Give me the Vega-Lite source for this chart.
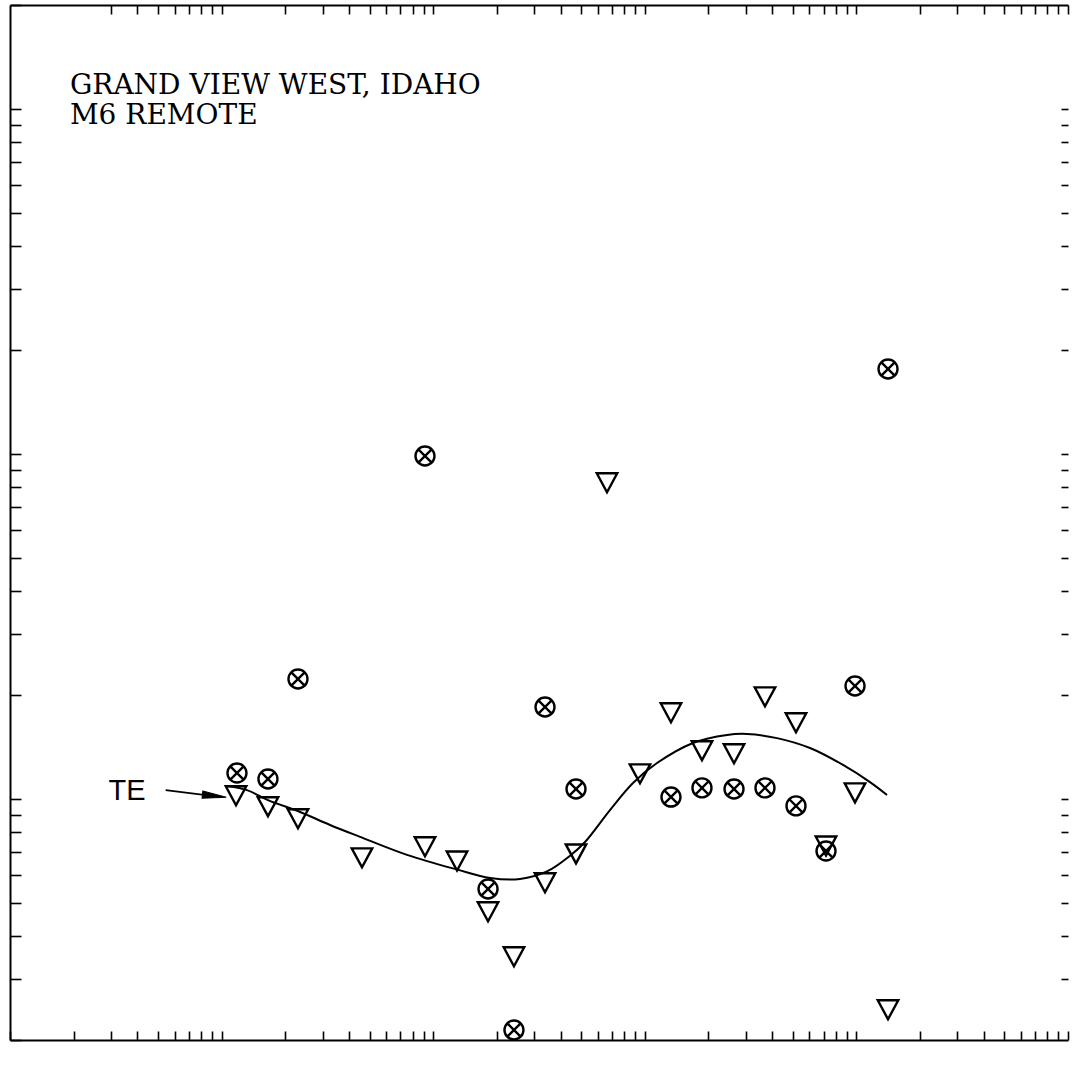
{
  "$schema": "https://vega.github.io/schema/vega-lite/v6.json",
  "width": 1058,
  "height": 1035,
  "autosize": {"type": "none"},
  "padding": {"left": 10, "top": 5, "right": 11, "bottom": 28},
  "background": "white",
  "config": {
    "view": {"stroke": null},
    "axis": {
      "labels": false, "grid": false, "title": null,
      "tickColor": "black", "tickWidth": 1.6, "domainColor": "black", "domainWidth": 2
    }
  },
  "datasets": {
    "points": [
      {"period": 0.0591, "rho": 5.94, "kind": "circle"},
      {"period": 0.0828, "rho": 5.71, "kind": "circle"},
      {"period": 0.1148, "rho": 11.13, "kind": "circle"},
      {"period": 0.4573, "rho": 49.29, "kind": "circle"},
      {"period": 0.908, "rho": 2.74, "kind": "circle"},
      {"period": 1.204, "rho": 1.069, "kind": "circle"},
      {"period": 1.688, "rho": 9.23, "kind": "circle"},
      {"period": 2.365, "rho": 5.34, "kind": "circle"},
      {"period": 6.648, "rho": 5.06, "kind": "circle"},
      {"period": 9.315, "rho": 5.38, "kind": "circle"},
      {"period": 13.2, "rho": 5.34, "kind": "circle"},
      {"period": 18.49, "rho": 5.38, "kind": "circle"},
      {"period": 25.91, "rho": 4.77, "kind": "circle"},
      {"period": 35.92, "rho": 3.53, "kind": "circle"},
      {"period": 49.25, "rho": 10.62, "kind": "circle"},
      {"period": 70.53, "rho": 88.1, "kind": "circle"},
      {"period": 0.0585, "rho": 5.13, "kind": "triangle"},
      {"period": 0.0828, "rho": 4.77, "kind": "triangle"},
      {"period": 0.1148, "rho": 4.4, "kind": "triangle"},
      {"period": 0.2304, "rho": 3.39, "kind": "triangle"},
      {"period": 0.4573, "rho": 3.65, "kind": "triangle"},
      {"period": 0.648, "rho": 3.32, "kind": "triangle"},
      {"period": 0.908, "rho": 2.365, "kind": "triangle"},
      {"period": 1.204, "rho": 1.752, "kind": "triangle"},
      {"period": 1.688, "rho": 2.87, "kind": "triangle"},
      {"period": 2.365, "rho": 3.48, "kind": "triangle"},
      {"period": 3.314, "rho": 41.44, "kind": "triangle"},
      {"period": 4.745, "rho": 5.94, "kind": "triangle"},
      {"period": 6.648, "rho": 8.93, "kind": "triangle"},
      {"period": 9.315, "rho": 6.93, "kind": "triangle"},
      {"period": 13.2, "rho": 6.79, "kind": "triangle"},
      {"period": 18.49, "rho": 9.93, "kind": "triangle"},
      {"period": 25.91, "rho": 8.35, "kind": "triangle"},
      {"period": 35.92, "rho": 3.67, "kind": "triangle"},
      {"period": 49.25, "rho": 5.23, "kind": "triangle"},
      {"period": 70.53, "rho": 1.23, "kind": "triangle"}
    ],
    "curve": [
      {"period": 0.0536, "rho": 5.45},
      {"period": 0.0659, "rho": 5.3},
      {"period": 0.0828, "rho": 4.96},
      {"period": 0.1174, "rho": 4.58},
      {"period": 0.1627, "rho": 4.2},
      {"period": 0.2255, "rho": 3.88},
      {"period": 0.376, "rho": 3.44},
      {"period": 0.648, "rho": 3.12},
      {"period": 0.928, "rho": 2.95},
      {"period": 1.286, "rho": 2.93},
      {"period": 1.725, "rho": 3.08},
      {"period": 2.215, "rho": 3.42},
      {"period": 2.609, "rho": 3.75},
      {"period": 3.423, "rho": 4.64},
      {"period": 4.397, "rho": 5.56},
      {"period": 5.71, "rho": 6.35},
      {"period": 8.45, "rho": 7.26},
      {"period": 12.23, "rho": 7.66},
      {"period": 15.2, "rho": 7.71},
      {"period": 21.07, "rho": 7.5},
      {"period": 30.18, "rho": 7.02},
      {"period": 43.23, "rho": 6.27},
      {"period": 57.97, "rho": 5.59},
      {"period": 69.77, "rho": 5.13}
    ],
    "arrow": [
      {"period": 0.0272, "rho": 5.3},
      {"period": 0.0502, "rho": 5.06}
    ],
    "arrowhead": [
      {"period": 0.0462, "rho": 5.1}
    ],
    "labels": [
      {"period": 0.0096, "rho": 552, "text": "GRAND VIEW WEST, IDAHO"},
      {"period": 0.0096, "rho": 452, "text": "M6 REMOTE"}
    ],
    "te": [
      {"period": 0.01786, "rho": 5.27, "text": "TE"}
    ]
  },
  "resolve": {"axis": {"x": "independent", "y": "independent"}},
  "layer": [
    {
      "data": {"name": "points"},
      "transform": [{"filter": "datum.kind === 'circle'"}],
      "mark": {
        "type": "point",
        "shape": "M -1 0 A 1 1 0 1 1 1 0 A 1 1 0 1 1 -1 0 Z M -0.7 -0.7 L 0.7 0.7 M -0.7 0.7 L 0.7 -0.7",
        "filled": false, "stroke": "black", "strokeWidth": 2.4, "size": 361, "opacity": 1
      },
      "encoding": {
        "x": {
          "field": "period", "type": "quantitative",
          "scale": {"type": "log", "domain": [0.005, 500], "nice": false, "zero": false},
          "axis": {
            "orient": "bottom", "tickSize": -9,
            "values": [0.005, 0.01, 0.015, 0.02, 0.025, 0.03, 0.035, 0.04, 0.045, 0.05, 0.1, 0.15, 0.2, 0.25, 0.3, 0.35, 0.4, 0.45, 0.5, 1, 1.5, 2, 2.5, 3, 3.5, 4, 4.5, 5, 10, 15, 20, 25, 30, 35, 40, 45, 50, 100, 150, 200, 250, 300, 350, 400, 450, 500]
          }
        },
        "y": {
          "field": "rho", "type": "quantitative",
          "scale": {"type": "log", "domain": [1, 1000], "nice": false, "zero": false},
          "axis": {
            "orient": "left", "tickSize": -11,
            "values": [1, 1.5, 2, 2.5, 3, 3.5, 4, 4.5, 5, 10, 15, 20, 25, 30, 35, 40, 45, 50, 100, 150, 200, 250, 300, 350, 400, 450, 500, 1000]
          }
        }
      }
    },
    {
      "data": {"name": "points"},
      "transform": [{"filter": "datum.kind === 'triangle'"}],
      "mark": {
        "type": "point",
        "shape": "M -1 -0.85 L 1 -0.85 L 0 1 Z",
        "filled": false, "stroke": "black", "strokeWidth": 2.4, "size": 420, "opacity": 1
      },
      "encoding": {
        "x": {
          "field": "period", "type": "quantitative",
          "scale": {"type": "log", "domain": [0.005, 500], "nice": false, "zero": false},
          "axis": {
            "orient": "top", "tickSize": -9,
            "values": [0.015, 0.02, 0.025, 0.03, 0.035, 0.04, 0.045, 0.05, 0.1, 0.15, 0.2, 0.25, 0.3, 0.35, 0.4, 0.45, 0.5, 1, 1.5, 2, 2.5, 3, 3.5, 4, 4.5, 5, 10, 15, 20, 25, 30, 35, 40, 45, 50, 100, 150, 200, 250, 300, 350, 400, 450, 500]
          }
        },
        "y": {
          "field": "rho", "type": "quantitative",
          "scale": {"type": "log", "domain": [1, 1000], "nice": false, "zero": false},
          "axis": {
            "orient": "right", "tickSize": -7, "domain": false,
            "values": [1.5, 2, 2.5, 3, 3.5, 4, 4.5, 5, 10, 15, 20, 25, 30, 35, 40, 45, 50, 100, 150, 200, 250, 300, 350, 400, 450, 500]
          }
        }
      }
    },
    {
      "data": {"name": "curve"},
      "mark": {"type": "line", "interpolate": "catmull-rom", "stroke": "black", "strokeWidth": 2},
      "encoding": {
        "x": {"field": "period", "type": "quantitative", "scale": {"type": "log", "domain": [0.005, 500], "nice": false}, "axis": null},
        "y": {"field": "rho", "type": "quantitative", "scale": {"type": "log", "domain": [1, 1000], "nice": false}, "axis": null}
      }
    },
    {
      "data": {"name": "arrow"},
      "mark": {"type": "line", "stroke": "black", "strokeWidth": 1.8},
      "encoding": {
        "x": {"field": "period", "type": "quantitative", "scale": {"type": "log", "domain": [0.005, 500], "nice": false}, "axis": null},
        "y": {"field": "rho", "type": "quantitative", "scale": {"type": "log", "domain": [1, 1000], "nice": false}, "axis": null}
      }
    },
    {
      "data": {"name": "arrowhead"},
      "mark": {"type": "point", "shape": "M -1 -0.3 L 1 0 L -1 0.3 Z", "filled": true, "fill": "black", "stroke": "black", "strokeWidth": 1, "size": 576, "angle": 6, "opacity": 1},
      "encoding": {
        "x": {"field": "period", "type": "quantitative", "scale": {"type": "log", "domain": [0.005, 500], "nice": false}, "axis": null},
        "y": {"field": "rho", "type": "quantitative", "scale": {"type": "log", "domain": [1, 1000], "nice": false}, "axis": null}
      }
    },
    {
      "data": {"name": "labels"},
      "mark": {"type": "text", "align": "left", "baseline": "alphabetic", "font": "DejaVu Serif", "fontSize": 28, "color": "black"},
      "encoding": {
        "x": {"field": "period", "type": "quantitative", "scale": {"type": "log", "domain": [0.005, 500], "nice": false}, "axis": null},
        "y": {"field": "rho", "type": "quantitative", "scale": {"type": "log", "domain": [1, 1000], "nice": false}, "axis": null},
        "text": {"field": "text"}
      }
    },
    {
      "data": {"name": "te"},
      "mark": {"type": "text", "align": "center", "baseline": "middle", "font": "Liberation Sans", "fontSize": 29, "color": "black"},
      "encoding": {
        "x": {"field": "period", "type": "quantitative", "scale": {"type": "log", "domain": [0.005, 500], "nice": false}, "axis": null},
        "y": {"field": "rho", "type": "quantitative", "scale": {"type": "log", "domain": [1, 1000], "nice": false}, "axis": null},
        "text": {"field": "text"}
      }
    }
  ]
}
